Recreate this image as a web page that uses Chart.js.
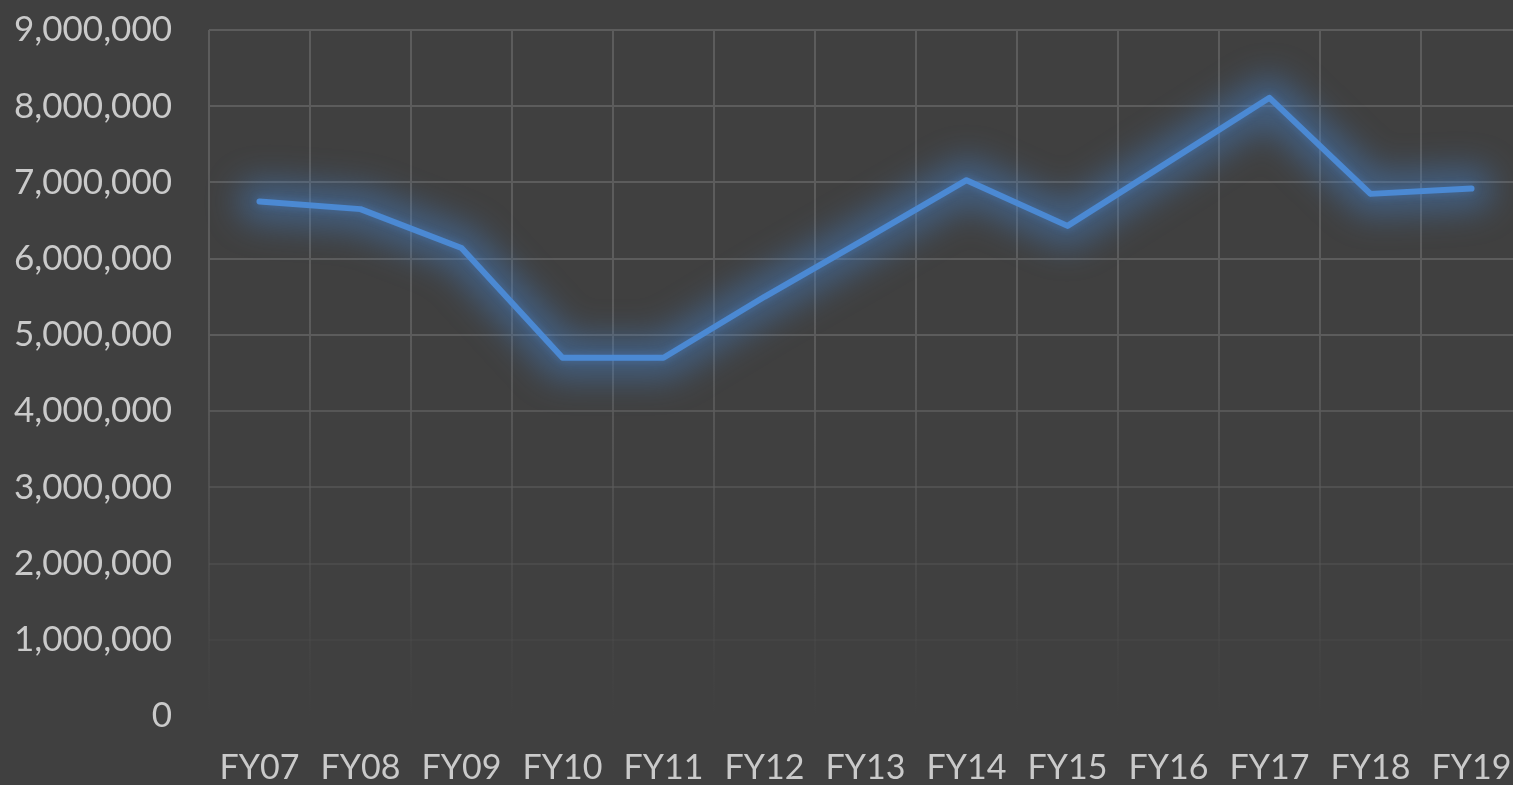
<!DOCTYPE html>
<html>
<head>
<meta charset="utf-8">
<script src="https://cdn.jsdelivr.net/npm/chart.js@4/dist/chart.umd.min.js"></script>
<style>
  html, body { margin: 0; padding: 0; background: #404040; overflow: hidden; }
  canvas { display: block; }
</style>
</head>
<body>
<canvas id="chart" width="1522" height="785"></canvas>
<script>
// Fiscal years on the category axis
const categories = ['FY07', 'FY08', 'FY09', 'FY10', 'FY11', 'FY12', 'FY13',
                    'FY14', 'FY15', 'FY16', 'FY17', 'FY18', 'FY19'];
// Yearly totals
const totals = [6750000, 6650000, 6140000, 4700000, 4700000, 5500000, 6260000,
                7030000, 6430000, 7270000, 8110000, 6850000, 6920000];
// Value axis range and step
const yMin = 0;
const yMax = 9000000;
const yStep = 1000000;

const BG = '#404040';
const GRID_RGB = '92,92,92';
const TEXT = '#cacaca';
const LINE = '#4b89d3';
const FONT = 'Lato, "Open Sans", sans-serif';

// Grid lines fade out toward the bottom of the plot
function gridAlphaAt(frac) { // frac: 0 at top, 1 at bottom
  if (frac <= 0.45) return 1;
  const t = Math.min(1, (frac - 0.45) / 0.52);
  return Math.max(0, 1 - t);
}

const backgroundPlugin = {
  id: 'bg',
  beforeDraw(chart) {
    const c = chart.ctx;
    c.save();
    c.fillStyle = BG;
    c.fillRect(0, 0, chart.width, chart.height);
    c.restore();
  }
};

// Wide blurred halo traced along the line's own points
const haloPlugin = {
  id: 'halo',
  beforeDatasetsDraw(chart) {
    const pts = chart.getDatasetMeta(0).data;
    if (!pts.length) return;
    const c = chart.ctx;
    c.save();
    c.filter = 'blur(16px)';
    c.strokeStyle = 'rgba(70,135,215,0.42)';
    c.lineWidth = 44;
    c.lineJoin = 'round';
    c.lineCap = 'round';
    c.beginPath();
    pts.forEach((p, i) => (i ? c.lineTo(p.x, p.y) : c.moveTo(p.x, p.y)));
    c.stroke();
    c.restore();
  }
};

// Tight glow right at the line
const glowPlugin = {
  id: 'glow',
  beforeDatasetDraw(chart) {
    const c = chart.ctx;
    c.save();
    c.shadowColor = 'rgba(80,145,230,0.4)';
    c.shadowBlur = 8;
  },
  afterDatasetDraw(chart) {
    chart.ctx.restore();
  }
};

let vGradient = null;
function verticalGridColor(ctx) {
  const chart = ctx.chart;
  const area = chart.chartArea;
  if (!area) return 'rgba(' + GRID_RGB + ',1)';
  if (!vGradient) {
    const g = chart.ctx.createLinearGradient(0, area.top, 0, area.bottom);
    const steps = 10;
    for (let i = 0; i <= steps; i++) {
      const f = i / steps;
      g.addColorStop(f, 'rgba(' + GRID_RGB + ',' + gridAlphaAt(f).toFixed(3) + ')');
    }
    vGradient = g;
  }
  return vGradient;
}

function horizontalGridColor(ctx) {
  const v = ctx.tick ? ctx.tick.value : 0;
  const frac = 1 - (v - yMin) / (yMax - yMin);
  return 'rgba(' + GRID_RGB + ',' + gridAlphaAt(frac).toFixed(3) + ')';
}

new Chart(document.getElementById('chart'), {
  type: 'line',
  data: {
    labels: categories,
    datasets: [{
      data: totals,
      borderColor: LINE,
      borderWidth: 6,
      borderCapStyle: 'round',
      borderJoinStyle: 'round',
      pointRadius: 0,
      pointHoverRadius: 0,
      tension: 0,
      fill: false
    }]
  },
  options: {
    responsive: false,
    animation: false,
    layout: { padding: { top: 30, right: 0, bottom: 0, left: 0 } },
    plugins: {
      legend: { display: false },
      title: { display: false },
      tooltip: { enabled: false }
    },
    scales: {
      x: {
        type: 'category',
        offset: true,
        border: { display: false },
        grid: {
          offset: true,
          drawTicks: false,
          lineWidth: 2,
          color: verticalGridColor
        },
        ticks: {
          color: TEXT,
          font: { family: FONT, size: 34 },
          padding: 32,
          maxRotation: 0,
          autoSkip: false
        },
        afterFit(scale) {
          scale.height = 69;
          scale.paddingLeft = 0;
          scale.paddingRight = 0;
        }
      },
      y: {
        min: yMin,
        max: yMax,
        border: { display: false },
        grid: {
          drawTicks: false,
          lineWidth: 2,
          color: horizontalGridColor
        },
        ticks: {
          stepSize: yStep,
          color: TEXT,
          font: { family: FONT, size: 35 },
          padding: 37,
          callback: (v) => Number(v).toLocaleString('en-US')
        },
        afterFit(scale) {
          scale.width = 209;
          scale.paddingTop = 0;
          scale.paddingBottom = 0;
        }
      }
    }
  },
  plugins: [backgroundPlugin, haloPlugin, glowPlugin]
});
</script>
</body>
</html>
